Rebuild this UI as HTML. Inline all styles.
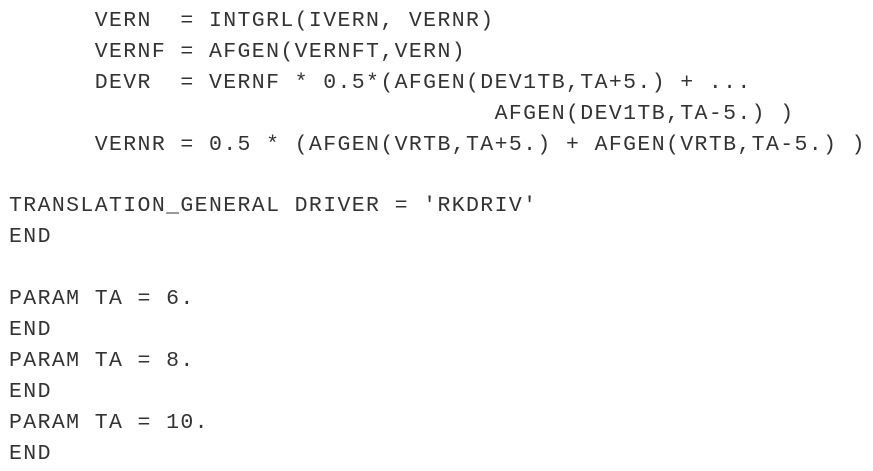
<!DOCTYPE html>
<html><head><meta charset="utf-8"><style>
html,body{margin:0;padding:0;background:#fff;width:873px;height:471px;overflow:hidden}
pre{position:absolute;left:9px;top:6px;margin:0;font-family:"Liberation Mono",monospace;font-size:21.5px;line-height:30.9px;color:#333;letter-spacing:1.38px}
</style></head><body>
<pre>      VERN  = INTGRL(IVERN, VERNR)
      VERNF = AFGEN(VERNFT,VERN)
      DEVR  = VERNF * 0.5*(AFGEN(DEV1TB,TA+5.) + ...
                                  AFGEN(DEV1TB,TA-5.) )
      VERNR = 0.5 * (AFGEN(VRTB,TA+5.) + AFGEN(VRTB,TA-5.) )

TRANSLATION_GENERAL DRIVER = 'RKDRIV'
END

PARAM TA = 6.
END
PARAM TA = 8.
END
PARAM TA = 10.
END</pre>
</body></html>
